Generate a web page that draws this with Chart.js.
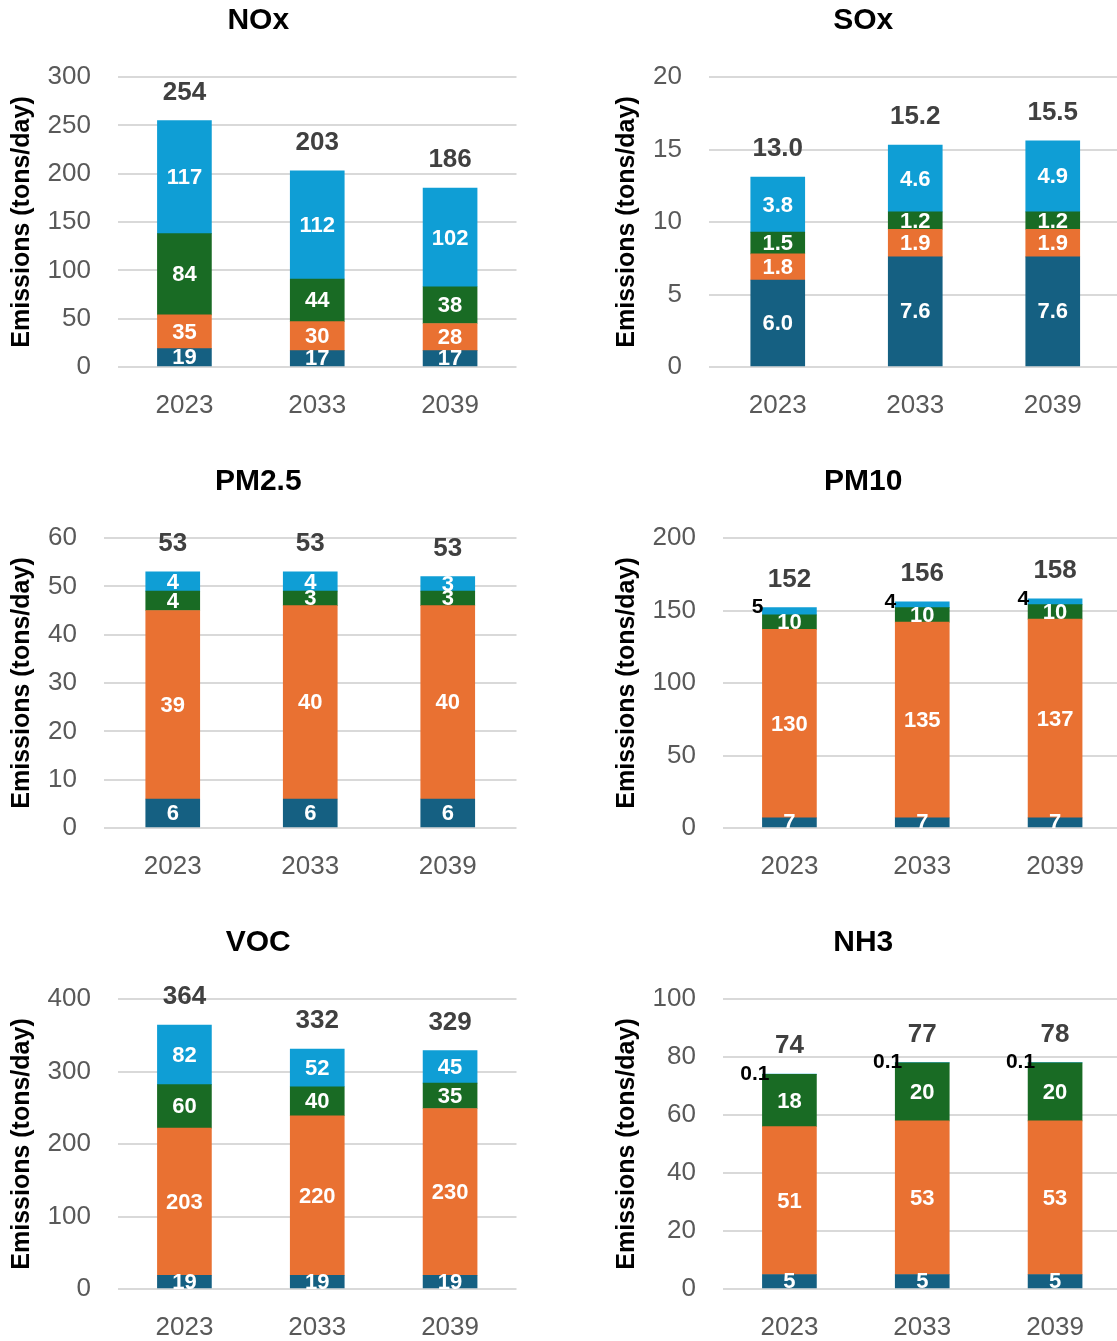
<!DOCTYPE html>
<html>
<head>
<meta charset="utf-8">
<title>Emissions by pollutant, 2023 / 2033 / 2039</title>
<script src="https://cdn.jsdelivr.net/npm/chart.js@4.4.1/dist/chart.umd.min.js"></script>
<style>
  html, body { margin: 0; padding: 0; background: #ffffff; overflow: hidden; width: 1117px; height: 1341px; position: relative; }
  canvas { position: absolute; }
</style>
</head>
<body>
<canvas id="c-nox"  width="518" height="440" style="left:0px;   top:0px;"></canvas>
<canvas id="c-sox"  width="518" height="440" style="left:605px; top:0px;"></canvas>
<canvas id="c-pm25" width="518" height="440" style="left:0px;   top:461px;"></canvas>
<canvas id="c-pm10" width="518" height="440" style="left:605px; top:461px;"></canvas>
<canvas id="c-voc"  width="518" height="440" style="left:0px;   top:922px;"></canvas>
<canvas id="c-nh3"  width="518" height="440" style="left:605px; top:922px;"></canvas>
<script>
// Forecast years shown on every panel
const years = ['2023', '2033', '2039'];

// NOx (tons/day), bottom segment to top segment
const noxS1 = [19, 17, 17];
const noxS2 = [35, 30, 28];
const noxS3 = [84, 44, 38];
const noxS4 = [117, 112, 102];
const noxTotals = [254, 203, 186];
const noxTicks = [0, 50, 100, 150, 200, 250, 300];

// SOx (tons/day)
const soxS1 = [6.0, 7.6, 7.6];
const soxS2 = [1.8, 1.9, 1.9];
const soxS3 = [1.5, 1.2, 1.2];
const soxS4 = [3.8, 4.6, 4.9];
const soxTotals = [13.0, 15.2, 15.5];
const soxTicks = [0, 5, 10, 15, 20];

// PM2.5 (tons/day)
const pm25S1 = [6, 6, 6];
const pm25S2 = [39, 40, 40];
const pm25S3 = [4, 3, 3];
const pm25S4 = [4, 4, 3];
const pm25Totals = [53, 53, 53];
const pm25Ticks = [0, 10, 20, 30, 40, 50, 60];

// PM10 (tons/day)
const pm10S1 = [7, 7, 7];
const pm10S2 = [130, 135, 137];
const pm10S3 = [10, 10, 10];
const pm10S4 = [5, 4, 4];
const pm10Totals = [152, 156, 158];
const pm10Ticks = [0, 50, 100, 150, 200];

// VOC (tons/day)
const vocS1 = [19, 19, 19];
const vocS2 = [203, 220, 230];
const vocS3 = [60, 40, 35];
const vocS4 = [82, 52, 45];
const vocTotals = [364, 332, 329];
const vocTicks = [0, 100, 200, 300, 400];

// NH3 (tons/day)
const nh3S1 = [5, 5, 5];
const nh3S2 = [51, 53, 53];
const nh3S3 = [18, 20, 20];
const nh3S4 = [0.1, 0.1, 0.1];
const nh3Totals = [74, 77, 78];
const nh3Ticks = [0, 20, 40, 60, 80, 100];

const seriesColors = ['#156082', '#E97132', '#196B24', '#0F9ED5'];
const FONT = "'Liberation Sans', Arial, Helvetica, sans-serif";

const panels = [
  { canvas: 'c-nox',  title: 'NOx',   series: [noxS1, noxS2, noxS3, noxS4],     totals: noxTotals,  ticks: noxTicks,  decimals: 0, axisWidth: 118, outsideSeries: -1, outsideShift: 0 },
  { canvas: 'c-sox',  title: 'SOx',   series: [soxS1, soxS2, soxS3, soxS4],     totals: soxTotals,  ticks: soxTicks,  decimals: 1, axisWidth: 104, outsideSeries: -1, outsideShift: 0 },
  { canvas: 'c-pm25', title: 'PM2.5', series: [pm25S1, pm25S2, pm25S3, pm25S4], totals: pm25Totals, ticks: pm25Ticks, decimals: 0, axisWidth: 104, outsideSeries: -1, outsideShift: 0 },
  { canvas: 'c-pm10', title: 'PM10',  series: [pm10S1, pm10S2, pm10S3, pm10S4], totals: pm10Totals, ticks: pm10Ticks, decimals: 0, axisWidth: 118, outsideSeries: 3,  outsideShift: 1 },
  { canvas: 'c-voc',  title: 'VOC',   series: [vocS1, vocS2, vocS3, vocS4],     totals: vocTotals,  ticks: vocTicks,  decimals: 0, axisWidth: 118, outsideSeries: -1, outsideShift: 0 },
  { canvas: 'c-nh3',  title: 'NH3',   series: [nh3S1, nh3S2, nh3S3, nh3S4],     totals: nh3Totals,  ticks: nh3Ticks,  decimals: 0, axisWidth: 118, outsideSeries: 3,  outsideShift: 7 }
];

// Format a value with at least the panel's decimals, keeping any fraction it carries
function fmt(v, decimals) {
  const frac = (String(v).split('.')[1] || '').length;
  return Number(v).toFixed(Math.max(decimals, frac));
}

// Value labels inside each segment, small top segments beside the bar, stack totals above
const stackLabels = {
  id: 'stackLabels',
  afterDatasetsDraw(chart, args, opts) {
    const ctx = chart.ctx;
    const area = chart.chartArea;
    ctx.save();
    ctx.beginPath();
    ctx.rect(0, 0, chart.width, area.bottom);
    ctx.clip();
    ctx.textBaseline = 'middle';
    chart.data.datasets.forEach((ds, i) => {
      const meta = chart.getDatasetMeta(i);
      meta.data.forEach((bar, j) => {
        const p = bar.getProps(['x', 'y', 'base', 'width'], true);
        const txt = fmt(ds.data[j], opts.decimals);
        if (i === opts.outsideSeries) {
          ctx.font = 'bold 21px ' + FONT;
          ctx.fillStyle = '#000000';
          ctx.textAlign = 'right';
          ctx.fillText(txt, p.x - p.width / 2 + opts.outsideShift, p.y);
        } else {
          ctx.font = 'bold 22px ' + FONT;
          ctx.fillStyle = '#ffffff';
          ctx.textAlign = 'center';
          ctx.fillText(txt, p.x, (p.y + p.base) / 2 + 1);
        }
      });
    });
    ctx.restore();

    // totals above each stack
    const lastMeta = chart.getDatasetMeta(chart.data.datasets.length - 1);
    ctx.save();
    ctx.font = 'bold 26px ' + FONT;
    ctx.fillStyle = '#404040';
    ctx.textAlign = 'center';
    ctx.textBaseline = 'middle';
    lastMeta.data.forEach((bar, j) => {
      const p = bar.getProps(['x', 'y'], true);
      ctx.fillText(Number(opts.totals[j]).toFixed(opts.decimals), p.x, p.y - 28);
    });
    ctx.restore();
  }
};

panels.forEach(pn => {
  const datasets = pn.series.map((vals, k) => ({
    data: vals,
    backgroundColor: seriesColors[k],
    borderWidth: 0,
    barThickness: 54,
    stack: 'total'
  }));
  new Chart(document.getElementById(pn.canvas), {
    type: 'bar',
    data: { labels: years, datasets },
    plugins: [stackLabels],
    options: {
      responsive: false,
      animation: false,
      layout: { padding: { left: 0, right: 1.5, top: 0, bottom: 0 } },
      plugins: {
        legend: { display: false },
        tooltip: { enabled: false },
        title: {
          display: true,
          text: pn.title,
          color: '#000000',
          font: { family: FONT, size: 30, weight: 'bold', lineHeight: 1.2 },
          padding: { top: 3, bottom: 38 }
        },
        stackLabels: {
          decimals: pn.decimals,
          totals: pn.totals,
          outsideSeries: pn.outsideSeries,
          outsideShift: pn.outsideShift
        }
      },
      scales: {
        x: {
          stacked: true,
          grid: { display: false, drawTicks: false },
          border: { display: false },
          ticks: {
            color: '#595959',
            font: { family: FONT, size: 26, lineHeight: 1.2 },
            padding: 23
          },
          afterFit(scale) { scale.height = 73; }
        },
        y: {
          stacked: true,
          min: pn.ticks[0],
          max: pn.ticks[pn.ticks.length - 1],
          grid: { color: '#d9d9d9', lineWidth: 2, drawTicks: false },
          border: { display: false },
          ticks: {
            stepSize: pn.ticks[1] - pn.ticks[0],
            color: '#595959',
            font: { family: FONT, size: 26, lineHeight: 1.2 },
            padding: 27,
            callback: v => String(v)
          },
          title: {
            display: true,
            text: 'Emissions (tons/day)',
            color: '#000000',
            font: { family: FONT, size: 25, weight: 'bold', lineHeight: 1.2 },
            padding: { top: 7, bottom: 11 }
          },
          afterFit(scale) { scale.width = pn.axisWidth; }
        }
      }
    }
  });
});
</script>
</body>
</html>
